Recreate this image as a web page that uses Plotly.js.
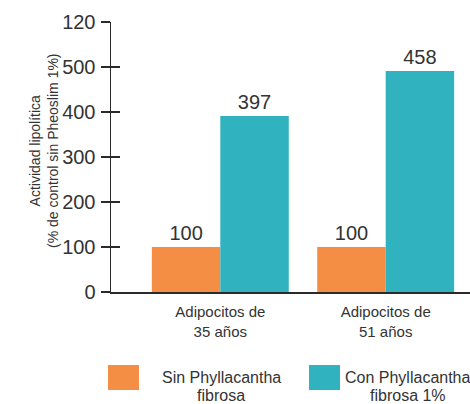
<!DOCTYPE html>
<html>
<head>
<meta charset="utf-8">
<script src="https://cdn.plot.ly/plotly-3.0.1.min.js"></script>
<style>
html,body{margin:0;padding:0;overflow:hidden;background:#fff;width:470px;height:404px;}
#chart{width:520px;height:404px;}
</style>
</head>
<body>
<div id="chart"></div>
<script>
// Data
const categories = ["Adipocitos de<br>35 años", "Adipocitos de<br>51 años"];
const seriesNames = ["Sin Phyllacantha<br>fibrosa", "Con Phyllacantha<br>fibrosa 1%"];
const sinValues = [100, 100];
const conValues = [391, 491];
const sinLabels = ["100", "100"];
const conLabels = ["397", "458"];
const yTickVals = [0, 100, 200, 300, 400, 500, 600];
const yTickText = ["0", "100", "200", "300", "400", "500", "120"];
const yTitle = "Actividad lipolítica<br>(% de control sin Pheoslim 1%)";

const orange = "#F48E45";
const teal = "#30B2BF";
const txt = "#333333";
const FONT = "Liberation Sans, Arial, Helvetica, sans-serif";

const traces = [
  {type: "bar", x: categories, y: sinValues, text: sinLabels, textposition: "outside",
   textfont: {size: 20, color: txt, family: FONT}, marker: {color: orange}, cliponaxis: false,
   hoverinfo: "skip", showlegend: false, name: seriesNames[0]},
  {type: "bar", x: categories, y: conValues, text: conLabels, textposition: "outside",
   textfont: {size: 20, color: txt, family: FONT}, marker: {color: teal}, cliponaxis: false,
   hoverinfo: "skip", showlegend: false, name: seriesNames[1]},
  {type: "scatter", x: [], y: [], yaxis: "y2", hoverinfo: "skip", showlegend: false}
];

const W = 520, H = 404, ml = 111, mr = 25, mt = 22, mb = 112;
const pw = W - ml - mr, ph = H - mt - mb;
const px = v => (v - ml) / pw;
const py = v => (H - mb - v) / ph;

const annotations = [
  {text: yTitle, xref: "paper", yref: "paper", x: px(44), y: py(151), textangle: -90,
   showarrow: false, xanchor: "center", yanchor: "middle", align: "center",
   font: {size: 14, color: txt}}
];
// legend labels, one annotation per line
const legendCenters = [221, 408];
seriesNames.forEach((name, i) => {
  name.split("<br>").forEach((line, j) => {
    annotations.push({text: line, xref: "paper", yref: "paper", x: px(legendCenters[i]),
      y: py(377 + 18 * j), showarrow: false, xanchor: "center", yanchor: "middle",
      font: {size: 16, color: txt}});
  });
});

const layout = {
  width: W, height: H,
  margin: {l: ml, r: mr, t: mt, b: mb, pad: 0},
  paper_bgcolor: "#fff", plot_bgcolor: "#fff",
  font: {family: FONT, color: txt, size: 14},
  barmode: "group", bargap: 0.172, bargroupgap: 0,
  xaxis: {range: [-0.661, 1.661], showline: true, linecolor: "#2a2a2a", linewidth: 2,
    ticks: "", showgrid: false, zeroline: false, tickfont: {size: 15, color: txt},
    ticklabelstandoff: 5},
  yaxis: {range: [0, 600], tickvals: yTickVals, ticktext: yTickText, showline: true,
    linecolor: "#2a2a2a", linewidth: 1.5, ticks: "outside", ticklen: 9, tickwidth: 1.2,
    tickcolor: "#2a2a2a", showgrid: false, zeroline: false,
    tickfont: {size: 20, color: txt}, ticklabelstandoff: 1},
  yaxis2: {range: [0, 600], overlaying: "y", tickvals: yTickVals, showticklabels: false,
    ticks: "inside", ticklen: 9, tickwidth: 1.2, tickcolor: "#2a2a2a", showline: false,
    showgrid: false, zeroline: false},
  annotations: annotations,
  shapes: [
    {type: "rect", xref: "paper", yref: "paper", x0: px(108), x1: px(139), y0: py(390), y1: py(365),
     fillcolor: orange, line: {width: 0}},
    {type: "rect", xref: "paper", yref: "paper", x0: px(309), x1: px(340), y0: py(390), y1: py(365),
     fillcolor: teal, line: {width: 0}}
  ]
};

Plotly.newPlot("chart", traces, layout, {staticPlot: true, displayModeBar: false});
</script>
</body>
</html>
